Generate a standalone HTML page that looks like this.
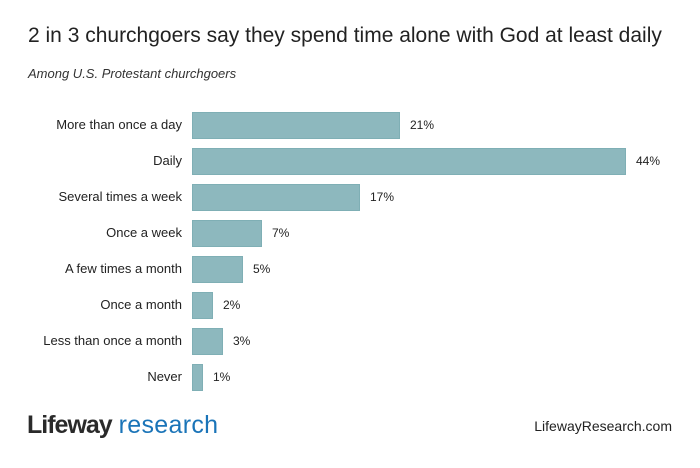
<!DOCTYPE html><html><head><style>
body{margin:0;width:700px;height:468px;background:#fff;font-family:"Liberation Sans",sans-serif;position:relative;overflow:hidden;color:#222}
.t{position:absolute;left:28px;top:24px;font-size:21px;color:#222}
.s{position:absolute;left:28px;top:66px;font-size:13px;font-style:italic;color:#333}
.l{position:absolute;right:518px;font-size:13px;text-align:right;white-space:nowrap;color:#222}
.b{position:absolute;left:192px;height:27px;background:#8db8be;box-sizing:border-box;border:1px solid #7fafb5}
.v{position:absolute;font-size:12px;color:#222}
</style></head><body>
<div class="t">2 in 3 churchgoers say they spend time alone with God at least daily</div>
<div class="s">Among U.S. Protestant churchgoers</div>
<div class="l" style="top:117px">More than once a day</div><div class="b" style="top:112px;width:208px"></div><div class="v" style="top:118px;left:410px">21%</div>
<div class="l" style="top:153px">Daily</div><div class="b" style="top:148px;width:434px"></div><div class="v" style="top:154px;left:636px">44%</div>
<div class="l" style="top:189px">Several times a week</div><div class="b" style="top:184px;width:168px"></div><div class="v" style="top:190px;left:370px">17%</div>
<div class="l" style="top:225px">Once a week</div><div class="b" style="top:220px;width:70px"></div><div class="v" style="top:226px;left:272px">7%</div>
<div class="l" style="top:261px">A few times a month</div><div class="b" style="top:256px;width:51px"></div><div class="v" style="top:262px;left:253px">5%</div>
<div class="l" style="top:297px">Once a month</div><div class="b" style="top:292px;width:21px"></div><div class="v" style="top:298px;left:223px">2%</div>
<div class="l" style="top:333px">Less than once a month</div><div class="b" style="top:328px;width:31px"></div><div class="v" style="top:334px;left:233px">3%</div>
<div class="l" style="top:369px">Never</div><div class="b" style="top:364px;width:11px"></div><div class="v" style="top:370px;left:213px">1%</div>
<div style="position:absolute;left:27px;top:411px;font-size:25px;white-space:nowrap"><span style="font-weight:bold;color:#2a2a2a;letter-spacing:-1px">Lifeway</span> <span style="color:#1a74b8;letter-spacing:0.3px">research</span></div>
<div style="position:absolute;right:28px;top:418px;font-size:14px;color:#222">LifewayResearch.com</div>
</body></html>
